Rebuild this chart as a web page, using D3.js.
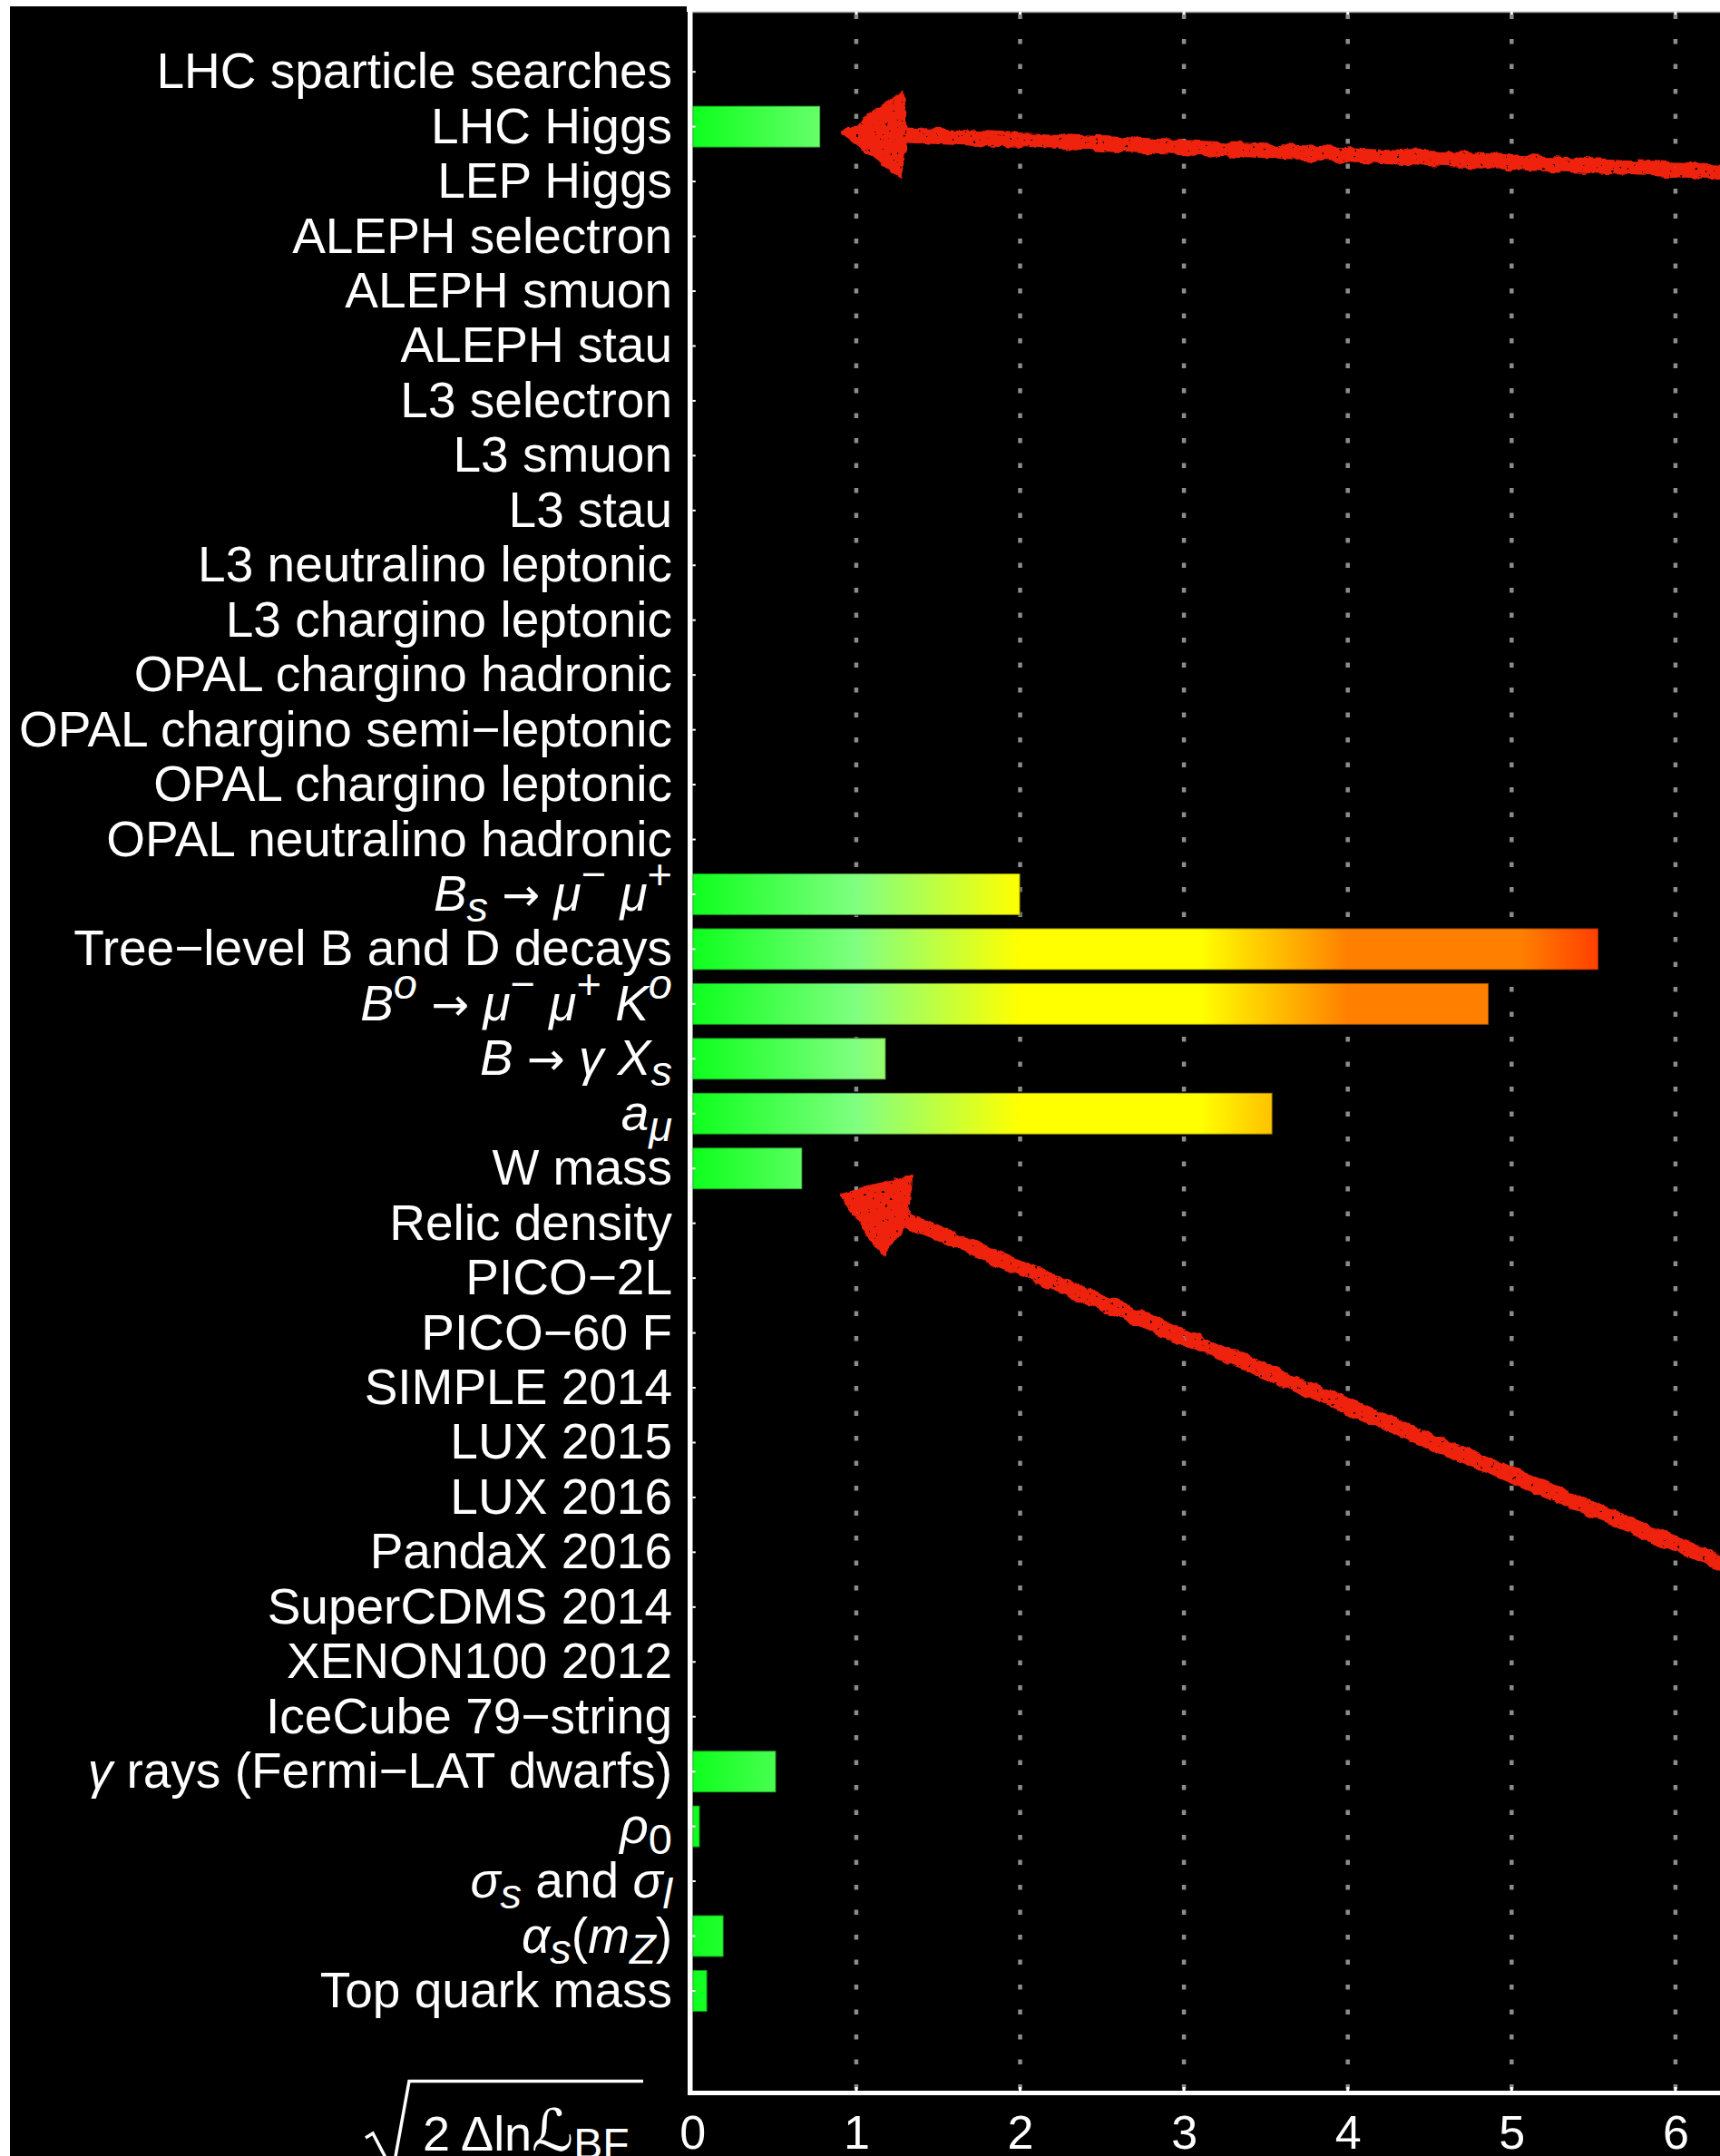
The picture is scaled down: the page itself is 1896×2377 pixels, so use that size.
<!DOCTYPE html>
<html>
<head>
<meta charset="utf-8">
<script src="https://cdn.jsdelivr.net/npm/d3@7"></script>
<style>
  html, body { margin: 0; padding: 0; background: #fff; }
  svg { display: block; }
</style>
</head>
<body>
<svg id="chart" width="1896" height="2377"></svg>
<script>
// Constraint categories (markup: *italic*, _{sub}, ^{sup}, ~ = arrow)
const categories = [
  "LHC sparticle searches",
  "LHC Higgs",
  "LEP Higgs",
  "ALEPH selectron",
  "ALEPH smuon",
  "ALEPH stau",
  "L3 selectron",
  "L3 smuon",
  "L3 stau",
  "L3 neutralino leptonic",
  "L3 chargino leptonic",
  "OPAL chargino hadronic",
  "OPAL chargino semi−leptonic",
  "OPAL chargino leptonic",
  "OPAL neutralino hadronic",
  "*B*_{*s*} ~ *μ*^{−} *μ*^{+}",
  "Tree−level B and D decays",
  "*B*^{*o*} ~ *μ*^{−} *μ*^{+} *K*^{*o*}",
  "*B* ~ *γ* *X*_{*s*}",
  "*a*_{*μ*}",
  "W mass",
  "Relic density",
  "PICO−2L",
  "PICO−60 F",
  "SIMPLE 2014",
  "LUX 2015",
  "LUX 2016",
  "PandaX 2016",
  "SuperCDMS 2014",
  "XENON100 2012",
  "IceCube 79−string",
  "*γ* rays (Fermi−LAT dwarfs)",
  "*ρ*_{0}",
  "*σ*_{*s*} and *σ*_{*l*}",
  "*α*_{*s*}(*m*_{*Z*})",
  "Top quark mass"
];

// sqrt(2 Δ ln L_BF) for each constraint at the best-fit point
const values = [
  0, 0.78, 0, 0, 0, 0, 0, 0, 0, 0, 0, 0, 0, 0, 0,
  2.00, 5.53, 4.86, 1.18, 3.54, 0.67,
  0, 0, 0, 0, 0, 0, 0, 0, 0, 0,
  0.51, 0.045, 0, 0.19, 0.09
];

const xTicks = [0, 1, 2, 3, 4, 5, 6];

// Colour ramp by pull size
const pullStops  = [0, 1, 2, 3.1, 4, 5.05, 6];
const pullColors = ["#0dff1d", "#80ff80", "#ffff00", "#ffff00", "#ff8000", "#ff8000", "#ff0000"];

// Hand-drawn call-out arrows, in (value, row) coordinates
const arrows = [
  { tip: [0.903, 1.12], wingA: [1.285, 0.35], wingB: [1.275, 1.97], neck: [1.311, 1.155], tail: [6.45, 1.84] },
  { tip: [0.894, 20.47], wingA: [1.345, 20.09], wingB: [1.165, 21.60], neck: [1.313, 20.95], tail: [6.45, 27.42] }
];

const W = 1896, H = 2377;
const FONT = "'Liberation Sans', Arial, Helvetica, sans-serif";
const plotLeft = 763.3, plotTop = 13, plotBottom = 2307;

const svg = d3.select("#chart");
const defs = svg.append("defs");

const x = d3.scaleLinear().domain([0, 6]).range([plotLeft, plotLeft + 6 * 180.6]);
const y = d3.scaleBand().domain(categories)
  .range([48.98, 2225.2]).paddingInner(0.24).paddingOuter(0.12);
const rowY = r => y(categories[0]) + y.bandwidth() / 2 + r * y.step();

// gradient in absolute value space so all bars share one ramp
const grad = defs.append("linearGradient").attr("id", "pull")
  .attr("gradientUnits", "userSpaceOnUse")
  .attr("x1", x(0)).attr("x2", x(6)).attr("y1", 0).attr("y2", 0);
pullStops.forEach((s, i) => grad.append("stop")
  .attr("offset", s / 6).attr("stop-color", pullColors[i]));

// rough, brushed look for the arrows
const f = defs.append("filter").attr("id", "rough")
  .attr("filterUnits", "userSpaceOnUse")
  .attr("x", 0).attr("y", 0).attr("width", W).attr("height", H);
f.append("feTurbulence").attr("type", "fractalNoise").attr("baseFrequency", 0.07)
  .attr("numOctaves", 3).attr("seed", 4).attr("result", "n");
f.append("feDisplacementMap").attr("in", "SourceGraphic").attr("in2", "n")
  .attr("scale", 8).attr("xChannelSelector", "R").attr("yChannelSelector", "G").attr("result", "d");
f.append("feTurbulence").attr("type", "fractalNoise").attr("baseFrequency", 0.25)
  .attr("numOctaves", 2).attr("seed", 11).attr("result", "n2");
f.append("feColorMatrix").attr("in", "n2").attr("type", "matrix")
  .attr("values", "0 0 0 0 0  0 0 0 0 0  0 0 0 0 0  0 0 0 -16 12.6").attr("result", "holes");
f.append("feComposite").attr("in", "d").attr("in2", "holes").attr("operator", "in");

// background panels
svg.append("rect").attr("width", W).attr("height", H).attr("fill", "#fff");
svg.append("rect").attr("x", 11).attr("y", 7).attr("width", W - 11).attr("height", H - 7).attr("fill", "#000");
svg.append("rect").attr("x", 757).attr("y", 0).attr("width", W - 757).attr("height", plotTop).attr("fill", "#fff");
svg.append("line").attr("x1", plotLeft).attr("x2", W).attr("y1", plotTop + 0.5).attr("y2", plotTop + 0.5)
  .attr("stroke", "#9a9a9a").attr("stroke-width", 1.5);

// dotted vertical grid
const grid = svg.append("g");
grid.selectAll("line").data(xTicks.filter(v => v > 0)).join("line")
  .attr("x1", d => x(d)).attr("x2", d => x(d))
  .attr("y1", 15.5).attr("y2", plotBottom - 2)
  .attr("stroke", "#8c8c8c").attr("stroke-width", 4.5)
  .attr("stroke-dasharray", "5.5 22");
grid.selectAll("path.top").data(xTicks.filter(v => v > 0)).join("path").attr("class", "top")
  .attr("d", d => `M${x(d)},${plotTop}V${plotTop + 3}`)
  .attr("stroke", "#fff").attr("stroke-width", 3);
grid.selectAll("path.bot").data(xTicks.filter(v => v > 0)).join("path").attr("class", "bot")
  .attr("d", d => `M${x(d)},${plotBottom - 2}V${plotBottom - 6}`)
  .attr("stroke", "#fff").attr("stroke-width", 3);

// bars
svg.append("g").selectAll("rect")
  .data(categories.map((c, i) => ({ c, v: values[i] })).filter(d => d.v > 0))
  .join("rect")
  .attr("x", x(0))
  .attr("y", d => y(d.c))
  .attr("width", d => x(d.v) - x(0))
  .attr("height", y.bandwidth())
  .attr("fill", "url(#pull)")
  .attr("stroke", "rgba(0,0,0,0.38)")
  .attr("stroke-width", 2);

// axes lines
svg.append("rect").attr("x", 758).attr("y", 0).attr("width", 5.5).attr("height", plotBottom + 3).attr("fill", "#fff");
svg.append("rect").attr("x", 758).attr("y", plotBottom - 2).attr("width", W - 758).attr("height", 5).attr("fill", "#fff");

// y-axis ticks (labels drawn separately as rich text)
const yAxis = svg.append("g").attr("transform", `translate(${plotLeft},0)`)
  .call(d3.axisLeft(y).tickSize(-3.5).tickFormat(""));
yAxis.select(".domain").remove();
yAxis.selectAll(".tick line").attr("stroke", "#fff").attr("stroke-width", 2);

// x axis labels
const xAxis = svg.append("g").attr("transform", `translate(0,${plotBottom})`)
  .call(d3.axisBottom(x).tickValues(xTicks).tickSize(0).tickFormat(d3.format("d")));
xAxis.select(".domain").remove();
xAxis.selectAll(".tick text")
  .attr("y", 62).attr("dy", 0)
  .attr("fill", "#fff")
  .attr("font-family", FONT).attr("font-size", 52);

// parse simple label markup into styled segments
function parseLabel(s) {
  const segs = [];
  let it = false, mode = null, buf = "";
  const flush = () => { if (buf) { segs.push({ t: buf, it, mode }); buf = ""; } };
  for (let i = 0; i < s.length; i++) {
    const ch = s[i];
    if (ch === "*") { flush(); it = !it; }
    else if (ch === "~") { flush(); segs.push({ t: "→", it: false, mode: null, arrow: true }); }
    else if ((ch === "_" || ch === "^") && s[i + 1] === "{") { flush(); mode = ch === "_" ? "sub" : "sup"; i++; }
    else if (ch === "}" && mode) { flush(); mode = null; }
    else buf += ch;
  }
  flush();
  return segs;
}

// category labels
const labels = svg.append("g").attr("font-family", FONT).attr("font-size", 55).attr("fill", "#fff");
categories.forEach(c => {
  const t = labels.append("text")
    .attr("x", 741).attr("y", y(c) + y.bandwidth() / 2 + 18)
    .attr("text-anchor", "end").style("white-space", "pre");
  let shift = 0;
  parseLabel(c).forEach(seg => {
    const target = seg.mode === "sub" ? 12 : seg.mode === "sup" ? -24 : 0;
    const ts = t.append("tspan").text(seg.t);
    if (target !== shift) { ts.attr("dy", target - shift); shift = target; }
    if (seg.it) ts.attr("font-style", "italic");
    if (seg.mode) ts.attr("font-size", 47);
    if (seg.arrow) ts.attr("font-family", "'DejaVu Sans', sans-serif").attr("font-size", 50);
  });
});

// axis title: sqrt(2 Δ ln L_BF)
const title = svg.append("g");
title.append("path")
  .attr("d", "M403,2357 L411,2352 L433,2394 L451,2294.5 L709,2294.5")
  .attr("fill", "none").attr("stroke", "#fff").attr("stroke-width", 3.5)
  .attr("stroke-linejoin", "miter");
const tt = title.append("text").attr("x", 466).attr("y", 2371)
  .attr("font-family", FONT)
  .attr("font-size", 54).attr("fill", "#fff").style("white-space", "pre");
tt.append("tspan").text("2 Δln");
tt.append("tspan").attr("font-family", "'DejaVu Sans', serif").attr("font-style", "italic")
  .attr("font-size", 64).text("ℒ");
tt.append("tspan").attr("dy", 9).attr("font-size", 48).text("BF");

// call-out arrows
const ax = svg.append("g").attr("filter", "url(#rough)");
arrows.forEach(a => {
  const P = p => [x(p[0]), rowY(p[1])];
  const tip = P(a.tip), wa = P(a.wingA), wb = P(a.wingB), nk = P(a.neck), tl = P(a.tail);
  const dx = tl[0] - nk[0], dy = tl[1] - nk[1], L = Math.hypot(dx, dy);
  const hw = 8.5;
  const nx = -dy / L * hw, ny = dx / L * hw;
  const p = d3.path();
  p.moveTo(tip[0], tip[1]);
  p.lineTo(wa[0], wa[1]);
  p.lineTo(nk[0] - nx, nk[1] - ny);
  p.lineTo(tl[0] - nx, tl[1] - ny);
  p.lineTo(tl[0] + nx, tl[1] + ny);
  p.lineTo(nk[0] + nx, nk[1] + ny);
  p.lineTo(wb[0], wb[1]);
  p.closePath();
  ax.append("path").attr("d", p.toString()).attr("fill", "#ee2211");
});
</script>
</body>
</html>
